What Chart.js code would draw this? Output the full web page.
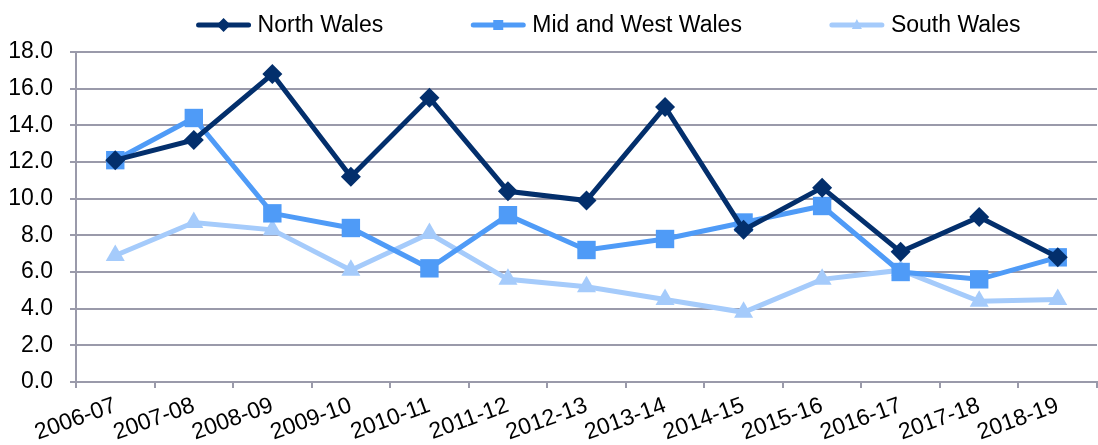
<!DOCTYPE html>
<html>
<head>
<meta charset="utf-8">
<script src="https://cdn.jsdelivr.net/npm/chart.js@4"></script>
<style>
  html, body { margin: 0; padding: 0; background: #fff; overflow: hidden; }
  #wrap { width: 1110px; height: 445px; }
</style>
</head>
<body>
<div id="wrap"><canvas id="chart" width="1110" height="445"></canvas></div>
<script>
const years = ["2006-07", "2007-08", "2008-09", "2009-10", "2010-11", "2011-12", "2012-13",
               "2013-14", "2014-15", "2015-16", "2016-17", "2017-18", "2018-19"];
const northWales = [12.1, 13.2, 16.8, 11.2, 15.5, 10.4, 9.9, 15.0, 8.3, 10.6, 7.1, 9.0, 6.8];
const midWestWales = [12.1, 14.4, 9.2, 8.4, 6.2, 9.1, 7.2, 7.8, 8.7, 9.6, 6.0, 5.6, 6.8];
const southWales = [6.9, 8.7, 8.3, 6.1, 8.1, 5.6, 5.2, 4.5, 3.8, 5.6, 6.1, 4.4, 4.5];

const seriesNames = ["North Wales", "Mid and West Wales", "South Wales"];
const colours = ["#032f6c", "#4f9bf7", "#a5cbfb"];
const markers = ["rectRot", "rect", "triangle"];
const markerSizes = [10, 13, 11];

const FONT = "'Liberation Sans', Arial, sans-serif";

// excel style legend: line with marker in the middle, then the name
function drawIcon(ctx, x, y, colour, style) {
  ctx.save();
  ctx.strokeStyle = colour;
  ctx.lineWidth = 5;
  ctx.lineCap = "round";
  ctx.beginPath();
  ctx.moveTo(x + 3, y); ctx.lineTo(x + 53, y);
  ctx.stroke();
  ctx.fillStyle = colour;
  ctx.beginPath();
  const cx = x + 28;
  if (style === "rectRot") {
    ctx.moveTo(cx, y - 7); ctx.lineTo(cx + 7, y); ctx.lineTo(cx, y + 7); ctx.lineTo(cx - 7, y);
  } else if (style === "rect") {
    ctx.rect(cx - 5, y - 5, 10, 10);
  } else {
    ctx.moveTo(cx, y - 6); ctx.lineTo(cx + 5, y + 4); ctx.lineTo(cx - 5, y + 4);
  }
  ctx.closePath();
  ctx.fill();
  ctx.restore();
}

const legendPlugin = {
  id: "excelLegend",
  afterDraw(chart) {
    const ctx = chart.ctx;
    const iconW = 56, gap = 6, spacing = 87;
    ctx.save();
    ctx.font = "23px " + FONT;
    const widths = seriesNames.map(n => ctx.measureText(n).width);
    let total = spacing * (seriesNames.length - 1);
    widths.forEach(w => total += iconW + gap + w);
    let x = 608 - total / 2;
    const y = 25;
    ctx.textBaseline = "middle";
    ctx.fillStyle = "#000";
    seriesNames.forEach((n, i) => {
      drawIcon(ctx, x, y, colours[i], markers[i]);
      ctx.fillText(n, x + iconW + gap, y + 1);
      x += iconW + gap + widths[i] + spacing;
    });
    ctx.restore();
  }
};

const allData = [northWales, midWestWales, southWales];
const datasets = allData.map((d, i) => ({
  label: seriesNames[i],
  data: d,
  borderColor: colours[i],
  backgroundColor: colours[i],
  borderWidth: 5,
  pointStyle: markers[i],
  pointRadius: markerSizes[i],
  pointBorderWidth: 0,
  pointHoverRadius: markerSizes[i],
  tension: 0
}));

new Chart(document.getElementById("chart"), {
  type: "line",
  data: { labels: years, datasets: datasets },
  plugins: [legendPlugin],
  options: {
    responsive: false,
    animation: false,
    layout: { padding: { top: 52, right: 0, left: 0, bottom: 0 } },
    plugins: {
      tooltip: { enabled: false },
      legend: { display: false }
    },
    scales: {
      x: {
        offset: true,
        grid: {
          display: true,
          offset: true,
          drawOnChartArea: false,
          color: "#9a9aaa",
          lineWidth: 2,
          tickLength: 6
        },
        border: { color: "#9a9aaa", width: 2 },
        ticks: {
          color: "#000",
          autoSkip: false,
          minRotation: 20,
          maxRotation: 20,
          padding: 4,
          font: { family: FONT, size: 23 }
        },
        afterFit: (scale) => { scale.height = 63; }
      },
      y: {
        min: 0,
        max: 18,
        ticks: {
          stepSize: 2,
          color: "#000",
          padding: 17,
          callback: (v) => Number(v).toFixed(1),
          font: { family: FONT, size: 23 }
        },
        grid: { color: "#9a9aaa", lineWidth: 2, tickLength: 6 },
        border: { color: "#9a9aaa", width: 2 },
        afterFit: (scale) => { scale.width = 76; }
      }
    }
  }
});
</script>
</body>
</html>
